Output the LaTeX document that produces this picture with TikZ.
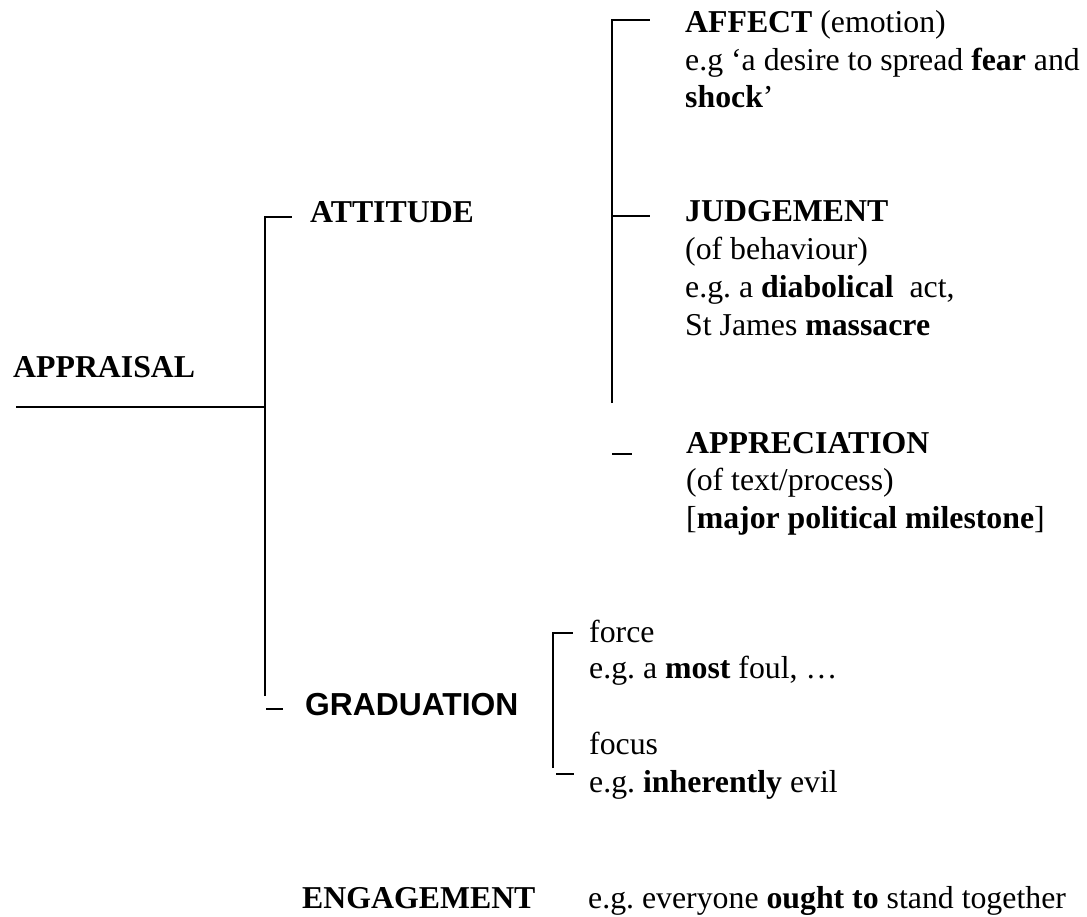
\documentclass[tikz,border=0pt]{standalone}
\usepackage{fontspec}
\setmainfont{Liberation Serif}
\newfontfamily\arialfont{Liberation Sans}
\begin{document}
\frenchspacing
\begin{tikzpicture}[x=1pt,y=-1pt,
  txt/.style={anchor=base west, inner sep=0pt, font=\fontsize{31.8}{38}\selectfont},
  ln/.style={line width=1.6pt, line cap=butt}]
\useasboundingbox (0,0) rectangle (1087,917);
% ---- texts
\node[txt] (appraisal) at (13,377) {\textbf{APPRAISAL}};
\node[txt] (attitude) at (310,223) {\textbf{ATTITUDE}};
\node[txt] (graduation) at (305,715) {\arialfont\bfseries GRADUATION};
\node[txt] (engagement) at (302,908) {\textbf{ENGAGEMENT}};
\node[txt] (engex) at (588,908) {e.g. everyone \textbf{ought to} stand together};
\node[txt] (affect1) at (685,33) {\textbf{AFFECT} (emotion)};
\node[txt] (affect2) at (685,71) {e.g ‘a desire to spread \textbf{fear} and};
\node[txt] (affect3) at (685,108) {\textbf{shock}’};
\node[txt] (judge1) at (685,222) {\textbf{JUDGEMENT}};
\node[txt] (judge2) at (685,260) {(of behaviour)};
\node[txt] (judge3) at (685,298) {e.g. a \textbf{diabolical}\ \ act,};
\node[txt] (judge4) at (685,336) {St James \textbf{massacre}};
\node[txt] (apprec1) at (686,453) {\textbf{APPRECIATION}};
\node[txt] (apprec2) at (686,490) {(of text/process)};
\node[txt] (apprec3) at (686,528) {[\textbf{major political milestone}]};
\node[txt] (force1) at (589,642) {force};
\node[txt] (force2) at (589,678) {e.g. a \textbf{most} foul, …};
\node[txt] (focus1) at (589,754) {focus};
\node[txt] (focus2) at (589,792) {e.g. \textbf{inherently} evil};
% ---- bracket points
\coordinate (rootL) at (16,407);
\coordinate (rootJ) at (265,407);
\coordinate (mainTop) at (265,217);
\coordinate (mainBot) at (265,696);
\coordinate (attTick) at (292,217);
\coordinate (gradTickL) at (266,709);
\coordinate (gradTickR) at (283,709);
\coordinate (attTop) at (612,19);
\coordinate (attBot) at (612,403);
\coordinate (affL) at (612,20);
\coordinate (affR) at (650,20);
\coordinate (judL) at (612,216);
\coordinate (judR) at (650,216);
\coordinate (appL) at (612,454);
\coordinate (appR) at (632,454);
\coordinate (grTop) at (553,633);
\coordinate (grBot) at (553,768);
\coordinate (forceR) at (573,633);
\coordinate (focL) at (556,774);
\coordinate (focR) at (574,774);
% ---- connectors
\draw[ln] (rootL) -- (rootJ);
\draw[ln] (mainBot) -- (mainTop) -- (attTick);
\draw[ln] (gradTickL) -- (gradTickR);
\draw[ln] (attBot) -- (attTop);
\draw[ln] (affL) -- (affR);
\draw[ln] (judL) -- (judR);
\draw[ln] (appL) -- (appR);
\draw[ln] (grBot) -- (grTop) -- (forceR);
\draw[ln] (focL) -- (focR);
\end{tikzpicture}
\end{document}
